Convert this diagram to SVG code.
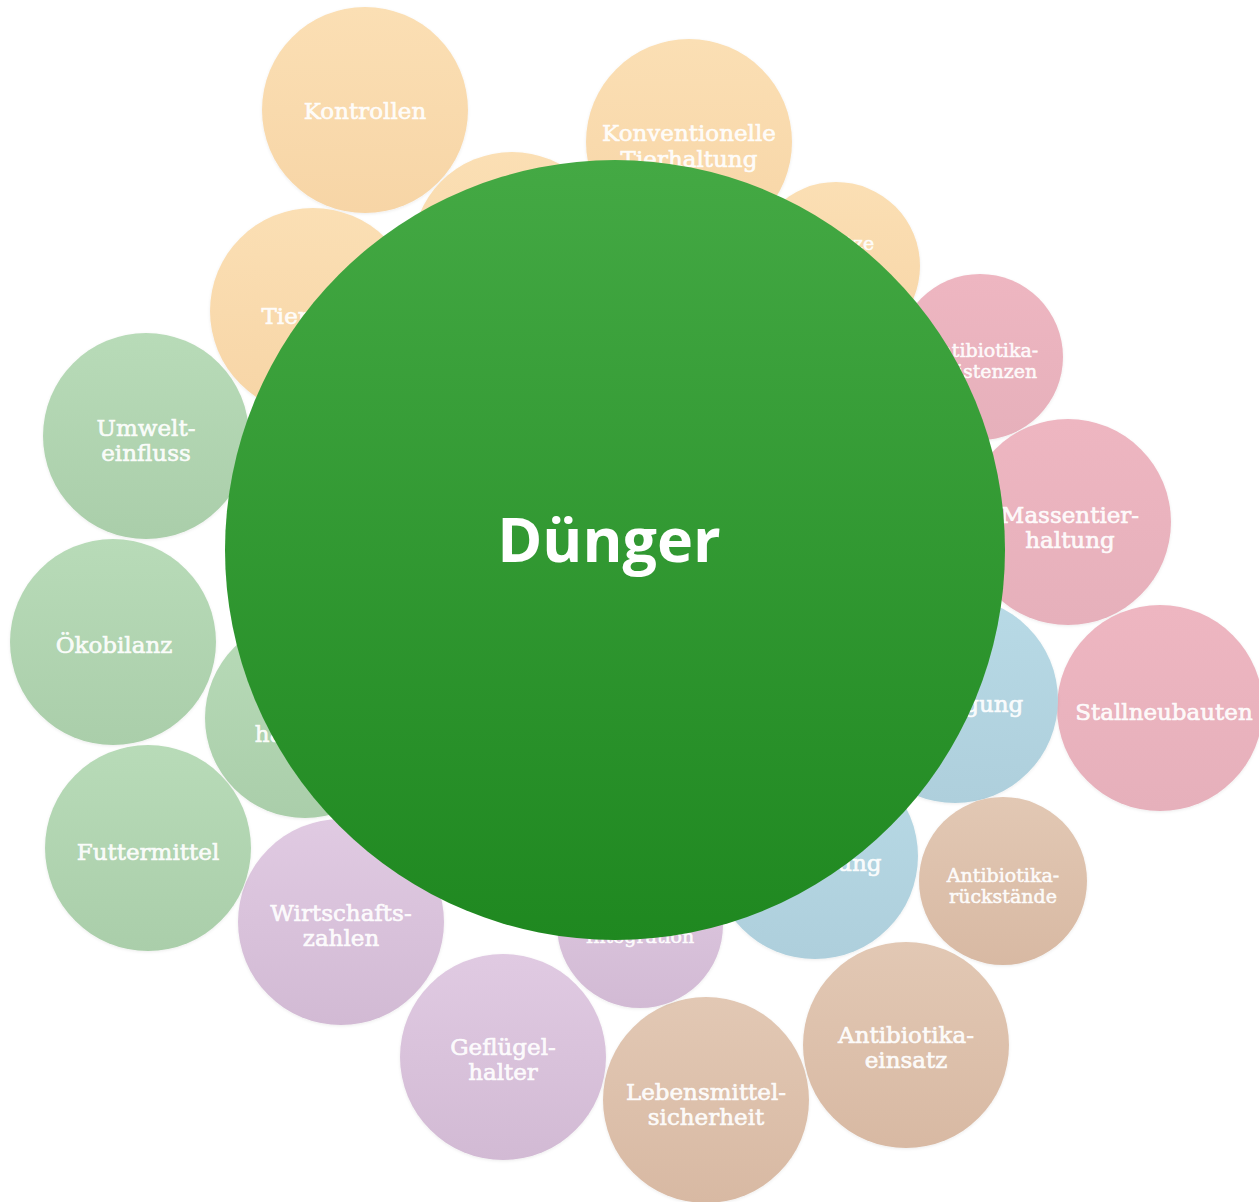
<svg xmlns="http://www.w3.org/2000/svg" width="1259" height="1202" viewBox="0 0 1259 1202">
<defs>
<linearGradient id="gOr" x1="0" y1="0" x2="0" y2="1"><stop offset="0" stop-color="#FBDFB4"/><stop offset="1" stop-color="#F7D5A6"/></linearGradient>
<linearGradient id="gPk" x1="0" y1="0" x2="0" y2="1"><stop offset="0" stop-color="#EEB6C1"/><stop offset="1" stop-color="#E6B0BB"/></linearGradient>
<linearGradient id="gBl" x1="0" y1="0" x2="0" y2="1"><stop offset="0" stop-color="#B8DAE6"/><stop offset="1" stop-color="#AECFDC"/></linearGradient>
<linearGradient id="gTn" x1="0" y1="0" x2="0" y2="1"><stop offset="0" stop-color="#E2C8B4"/><stop offset="1" stop-color="#D8B9A3"/></linearGradient>
<linearGradient id="gPu" x1="0" y1="0" x2="0" y2="1"><stop offset="0" stop-color="#E0CAE2"/><stop offset="1" stop-color="#D2BAD4"/></linearGradient>
<linearGradient id="gGn" x1="0" y1="0" x2="0" y2="1"><stop offset="0" stop-color="#B8DBB8"/><stop offset="1" stop-color="#AACEAA"/></linearGradient>
<linearGradient id="gMain" x1="0" y1="0" x2="0" y2="1"><stop offset="0" stop-color="#44A944"/><stop offset="1" stop-color="#1F8820"/></linearGradient>
<filter id="soft" x="-10%" y="-10%" width="120%" height="120%"><feDropShadow dx="0" dy="1" stdDeviation="1.5" flood-color="#000" flood-opacity="0.08"/></filter>
</defs>
<style>
.n circle{filter:url(#soft)}
.or{fill:url(#gOr)} .pk{fill:url(#gPk)} .bl{fill:url(#gBl)} .tn{fill:url(#gTn)} .pu{fill:url(#gPu)} .gn{fill:url(#gGn)}
.t{font-family:"DejaVu Serif","Liberation Serif",serif;font-size:23px;fill:#FFFFFF;fill-opacity:0.93;stroke:#FFFFFF;stroke-opacity:0.85;stroke-width:0.7px;text-anchor:middle}
.s{font-size:19px;stroke-width:0.6px}
.main{font-family:"Open Sans","Liberation Sans",sans-serif;font-weight:bold;font-size:61px;fill:#FFFFFF;text-anchor:middle}
</style>
<rect width="1259" height="1202" fill="#FFFFFF"/>
<g id="connectors"/>
<g id="kontrollen" class="n"><circle class="or" cx="365" cy="110" r="103"/><text class="t" x="365" y="119">Kontrollen</text></g>
<g id="konventionelle" class="n"><circle class="or" cx="689" cy="142" r="103"/><text class="t" x="689" y="141">Konventionelle</text><text class="t" x="689" y="167">Tierhaltung</text></g>
<g id="orange-hidden" class="n"><circle class="or" cx="512" cy="252" r="100"/></g>
<g id="gesetze" class="n"><circle class="or" cx="836" cy="266" r="84"/><text class="t s" x="836" y="250">Gesetze</text></g>
<g id="tierwohl" class="n"><circle class="or" cx="313" cy="311" r="103"/><text class="t" x="313" y="324">Tierwohl</text></g>
<g id="resistenzen" class="n"><circle class="pk" cx="980" cy="357" r="83"/><text class="t s" x="982" y="357">Antibiotika-</text><text class="t s" x="982" y="378">resistenzen</text></g>
<g id="massentierhaltung" class="n"><circle class="pk" cx="1068" cy="522" r="103"/><text class="t" x="1070" y="523">Massentier-</text><text class="t" x="1070" y="548">haltung</text></g>
<g id="stallneubauten" class="n"><circle class="pk" cx="1160" cy="708" r="103"/><text class="t" x="1164" y="720">Stallneubauten</text></g>
<g id="entsorgung" class="n"><circle class="bl" cx="955" cy="700" r="103"/><text class="t" x="955" y="712">Entsorgung</text></g>
<g id="verwertung" class="n"><circle class="bl" cx="815" cy="856" r="103"/><text class="t" x="813" y="871">Verwertung</text></g>
<g id="rueckstaende" class="n"><circle class="tn" cx="1003" cy="881" r="84"/><text class="t s" x="1003" y="882">Antibiotika-</text><text class="t s" x="1003" y="903">rückstände</text></g>
<g id="einsatz" class="n"><circle class="tn" cx="906" cy="1045" r="103"/><text class="t" x="906" y="1043">Antibiotika-</text><text class="t" x="906" y="1068">einsatz</text></g>
<g id="lebensmittel" class="n"><circle class="tn" cx="706" cy="1100" r="103"/><text class="t" x="706" y="1100">Lebensmittel-</text><text class="t" x="706" y="1125">sicherheit</text></g>
<g id="integration" class="n"><circle class="pu" cx="640" cy="925" r="83"/><text class="t s" x="640" y="920">Vertikale</text><text class="t s" x="640" y="943">Integration</text></g>
<g id="gefluegelhalter" class="n"><circle class="pu" cx="503" cy="1057" r="103"/><text class="t" x="503" y="1055">Geflügel-</text><text class="t" x="503" y="1080">halter</text></g>
<g id="wirtschaftszahlen" class="n"><circle class="pu" cx="341" cy="922" r="103"/><text class="t" x="341" y="921">Wirtschafts-</text><text class="t" x="341" y="946">zahlen</text></g>
<g id="umwelteinfluss" class="n"><circle class="gn" cx="146" cy="436" r="103"/><text class="t" x="146" y="436">Umwelt-</text><text class="t" x="146" y="461">einfluss</text></g>
<g id="oekobilanz" class="n"><circle class="gn" cx="113" cy="642" r="103"/><text class="t" x="114" y="653">Ökobilanz</text></g>
<g id="bodenhaushalt" class="n"><circle class="gn" cx="305" cy="718" r="100"/><text class="t" x="305" y="717">Boden-</text><text class="t" x="305" y="742">haushalt</text></g>
<g id="futtermittel" class="n"><circle class="gn" cx="148" cy="848" r="103"/><text class="t" x="148" y="860">Futtermittel</text></g>
<g id="duenger"><circle cx="615" cy="550" r="390" fill="url(#gMain)"/><text class="main" x="609" y="562">Dünger</text></g>
</svg>
